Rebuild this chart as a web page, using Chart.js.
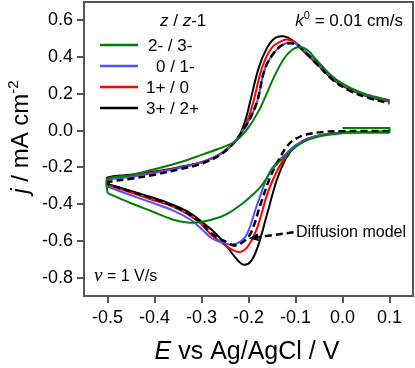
<!DOCTYPE html>
<html>
<head>
<meta charset="utf-8">
<script src="https://cdn.jsdelivr.net/npm/chart.js@4.4.1/dist/chart.umd.min.js"></script>
<style>
  html, body { margin: 0; padding: 0; background: #fff; }
  #wrap { width: 415px; height: 368px; }
</style>
</head>
<body>
<div id="wrap"><canvas id="cvChart"></canvas></div>
<script>
// tick labels
const xTicks = [-0.5, -0.4, -0.3, -0.2, -0.1, 0.0, 0.1];
const yTicks = [-0.8, -0.6, -0.4, -0.2, 0.0, 0.2, 0.4, 0.6];

// legend labels (z / z-1)
const seriesLabels = ['2- / 3-', '0 / 1-', '1+ / 0', '3+ / 2+'];

// [E (V), j (mA cm-2)]; cathodic sweep then anodic sweep
const greenStart = [[0.0, 0.014], [0.1, 0.014], [0.1, -0.012]];
const greenCath = [[0.1, -0.012], [0.05, -0.012], [0.0, -0.014], [-0.04, -0.027], [-0.075, -0.052], [-0.1, -0.09], [-0.12, -0.135], [-0.146, -0.2], [-0.174, -0.305], [-0.2, -0.37], [-0.217, -0.405], [-0.24, -0.445], [-0.26, -0.47], [-0.3, -0.497], [-0.33, -0.5], [-0.36, -0.485], [-0.405, -0.44], [-0.45, -0.395], [-0.5, -0.34]];
const greenAnod = [[-0.5, -0.34], [-0.5, -0.265], [-0.45, -0.243], [-0.407, -0.214], [-0.345, -0.172], [-0.3, -0.132], [-0.265, -0.1], [-0.231, -0.063], [-0.205, 0.0], [-0.178, 0.109], [-0.146, 0.29], [-0.125, 0.39], [-0.107, 0.44], [-0.092, 0.455], [-0.075, 0.44], [-0.054, 0.38], [-0.018, 0.287], [0.017, 0.232], [0.053, 0.195], [0.1, 0.166]];

const blueCath = [[0.1, -0.006], [0.05, -0.007], [0.0, -0.01], [-0.04, -0.022], [-0.075, -0.045], [-0.1, -0.08], [-0.12, -0.125], [-0.153, -0.217], [-0.181, -0.398], [-0.203, -0.562], [-0.22, -0.608], [-0.238, -0.62], [-0.26, -0.607], [-0.281, -0.58], [-0.3, -0.535], [-0.323, -0.485], [-0.36, -0.435], [-0.41, -0.388], [-0.45, -0.352], [-0.5, -0.305]];
const blueAnod = [[-0.5, -0.305], [-0.5, -0.27], [-0.45, -0.252], [-0.4, -0.23], [-0.345, -0.202], [-0.3, -0.174], [-0.26, -0.128], [-0.231, -0.065], [-0.207, 0.02], [-0.194, 0.08], [-0.181, 0.163], [-0.164, 0.344], [-0.139, 0.444], [-0.118, 0.478], [-0.1, 0.476], [-0.08, 0.435], [-0.054, 0.37], [-0.018, 0.281], [0.017, 0.227], [0.053, 0.19], [0.1, 0.163]];

const redCath = [[0.1, -0.006], [0.05, -0.007], [0.0, -0.01], [-0.04, -0.022], [-0.075, -0.045], [-0.1, -0.082], [-0.12, -0.14], [-0.139, -0.217], [-0.16, -0.344], [-0.181, -0.525], [-0.2, -0.625], [-0.217, -0.66], [-0.235, -0.648], [-0.253, -0.618], [-0.281, -0.562], [-0.3, -0.51], [-0.323, -0.465], [-0.36, -0.415], [-0.41, -0.372], [-0.45, -0.337], [-0.5, -0.296]];
const redAnod = [[-0.5, -0.296], [-0.5, -0.262], [-0.45, -0.246], [-0.4, -0.226], [-0.345, -0.2], [-0.3, -0.172], [-0.26, -0.127], [-0.231, -0.065], [-0.212, 0.0], [-0.2, 0.07], [-0.189, 0.163], [-0.171, 0.344], [-0.15, 0.453], [-0.128, 0.49], [-0.115, 0.495], [-0.1, 0.48], [-0.08, 0.43], [-0.054, 0.365], [-0.018, 0.278], [0.017, 0.225], [0.053, 0.189], [0.1, 0.16]];

const blackCath = [[0.1, -0.006], [0.05, -0.007], [0.0, -0.01], [-0.04, -0.022], [-0.075, -0.045], [-0.1, -0.085], [-0.12, -0.15], [-0.14, -0.27], [-0.16, -0.45], [-0.18, -0.63], [-0.195, -0.712], [-0.21, -0.73], [-0.225, -0.7], [-0.245, -0.634], [-0.27, -0.56], [-0.3, -0.495], [-0.33, -0.44], [-0.37, -0.395], [-0.41, -0.36], [-0.45, -0.328], [-0.5, -0.29]];
const blackAnod = [[-0.5, -0.29], [-0.5, -0.255], [-0.45, -0.24], [-0.4, -0.222], [-0.35, -0.2], [-0.3, -0.172], [-0.26, -0.128], [-0.231, -0.065], [-0.217, -0.015], [-0.205, 0.07], [-0.196, 0.163], [-0.178, 0.344], [-0.16, 0.453], [-0.143, 0.505], [-0.125, 0.513], [-0.106, 0.49], [-0.08, 0.425], [-0.054, 0.362], [-0.018, 0.275], [0.017, 0.222], [0.053, 0.186], [0.1, 0.158]];

// diffusion model (dashed)
const diffCath = [[0.1, -0.002], [0.05, -0.002], [0.0, -0.003], [-0.04, -0.007], [-0.075, -0.02], [-0.1, -0.045], [-0.118, -0.085], [-0.139, -0.175], [-0.155, -0.26], [-0.174, -0.398], [-0.196, -0.562], [-0.215, -0.612], [-0.231, -0.625], [-0.245, -0.61], [-0.281, -0.555], [-0.3, -0.505], [-0.33, -0.448], [-0.37, -0.4], [-0.407, -0.365], [-0.45, -0.332], [-0.5, -0.29]];
const diffAnod = [[-0.5, -0.29], [-0.5, -0.28], [-0.45, -0.262], [-0.4, -0.24], [-0.345, -0.209], [-0.3, -0.18], [-0.26, -0.132], [-0.231, -0.065], [-0.207, 0.02], [-0.194, 0.08], [-0.181, 0.163], [-0.164, 0.344], [-0.139, 0.444], [-0.118, 0.474], [-0.098, 0.468], [-0.08, 0.428], [-0.054, 0.36], [-0.018, 0.27], [0.017, 0.215], [0.053, 0.18], [0.1, 0.148]];

const GREEN = '#008000', BLUE = '#5050ff', RED = '#ff0000', BLACK = '#000000';
const FRAME = '#555555';
const SANS = "Arial, 'Liberation Sans', sans-serif";
const SERIF = "'Liberation Serif', 'DejaVu Serif', serif";

const toXY = arr => arr.map(p => ({ x: p[0], y: p[1] }));

function line(data, color, extra) {
  return Object.assign({
    data: toXY(data),
    borderColor: color,
    borderWidth: 2,
    pointRadius: 0,
    tension: 0.35,
    showLine: true,
    fill: false
  }, extra || {});
}

const dashed = { borderDash: [7, 4], borderWidth: 2.5 };

// first dataset is drawn on top
const datasets = [
  line(greenStart, GREEN, { tension: 0 }),
  line(greenCath, GREEN),
  line(greenAnod, GREEN),
  line(diffCath, BLACK, dashed),
  line(diffAnod, BLACK, dashed),
  line(blueCath, BLUE),
  line(blueAnod, BLUE),
  line(redCath, RED),
  line(redAnod, RED),
  line(blackCath, BLACK),
  line(blackAnod, BLACK)
];

// draw text made of several runs with different fonts
function drawRuns(ctx, parts, x, y) {
  parts.forEach(p => {
    ctx.font = p.f;
    ctx.fillText(p.t, x, y + (p.dy || 0));
    x += ctx.measureText(p.t).width;
  });
}
function runsWidth(ctx, parts) {
  let w = 0;
  parts.forEach(p => { ctx.font = p.f; w += ctx.measureText(p.t).width; });
  return w;
}

const decorations = {
  id: 'decorations',
  afterDraw(chart) {
    const ctx = chart.ctx;
    const a = chart.chartArea;
    const xs = chart.scales.x, ys = chart.scales.y;
    ctx.save();

    // frame
    ctx.strokeStyle = FRAME;
    ctx.lineWidth = 2;
    ctx.strokeRect(a.left, a.top, a.right - a.left, a.bottom - a.top);

    ctx.fillStyle = '#000';
    ctx.textBaseline = 'alphabetic';
    ctx.textAlign = 'left';

    // x title
    const xt = [
      { t: 'E', f: 'italic 25px ' + SANS },
      { t: ' vs Ag/AgCl / V', f: '25px ' + SANS }
    ];
    drawRuns(ctx, xt, 247 - runsWidth(ctx, xt) / 2, 359);

    // y title
    const yt = [
      { t: 'j', f: 'italic 24px ' + SANS },
      { t: ' / mA cm', f: '24px ' + SANS },
      { t: '-2', f: '15px ' + SANS, dy: -10 }
    ];
    ctx.save();
    ctx.translate(28, 137);
    ctx.rotate(-Math.PI / 2);
    drawRuns(ctx, yt, -runsWidth(ctx, yt) / 2, 0);
    ctx.restore();

    // legend header
    drawRuns(ctx, [
      { t: 'z', f: 'italic 17px ' + SANS },
      { t: ' / ', f: '17px ' + SANS },
      { t: 'z', f: 'italic 17px ' + SANS },
      { t: '-1', f: '17px ' + SANS }
    ], 160, 26);

    // k0 note
    const kt = [
      { t: 'k', f: 'italic 17px ' + SANS },
      { t: '0', f: '11px ' + SANS, dy: -7 },
      { t: ' = 0.01 cm/s', f: '17px ' + SANS }
    ];
    drawRuns(ctx, kt, 403 - runsWidth(ctx, kt), 26);

    // legend entries
    const legColors = [GREEN, BLUE, RED, BLACK];
    const legY = [45, 66, 87, 108];
    const legX = [148, 156, 146, 146];
    ctx.lineWidth = 2.5;
    legColors.forEach((c, i) => {
      ctx.strokeStyle = c;
      ctx.beginPath();
      ctx.moveTo(100, legY[i]);
      ctx.lineTo(138, legY[i]);
      ctx.stroke();
      ctx.font = '17px ' + SANS;
      ctx.fillText(seriesLabels[i], legX[i], legY[i] + 6);
    });

    // scan rate
    drawRuns(ctx, [
      { t: 'v', f: 'italic 19px ' + SERIF },
      { t: ' = 1 V/s', f: '16px ' + SANS }
    ], 94, 281);

    // diffusion model arrow
    const x0 = xs.getPixelForValue(-0.104), y0 = ys.getPixelForValue(-0.553);
    const x1 = xs.getPixelForValue(-0.2), y1 = ys.getPixelForValue(-0.587);
    const ang = Math.atan2(y1 - y0, x1 - x0);
    const hx = x1 - 10 * Math.cos(ang), hy = y1 - 10 * Math.sin(ang);
    ctx.strokeStyle = '#000';
    ctx.lineWidth = 2.5;
    ctx.setLineDash([7, 4]);
    ctx.beginPath();
    ctx.moveTo(x0, y0);
    ctx.lineTo(hx, hy);
    ctx.stroke();
    ctx.setLineDash([]);
    ctx.beginPath();
    ctx.moveTo(x1, y1);
    ctx.lineTo(hx + 4 * Math.sin(ang), hy - 4 * Math.cos(ang));
    ctx.lineTo(hx - 4 * Math.sin(ang), hy + 4 * Math.cos(ang));
    ctx.closePath();
    ctx.fill();
    ctx.font = '16px ' + SANS;
    ctx.fillText('Diffusion model', 296, 237);

    ctx.restore();
  }
};

const tickFont = { family: SANS, size: 18 };

new Chart(document.getElementById('cvChart'), {
  type: 'scatter',
  data: { datasets: datasets },
  options: {
    responsive: true,
    maintainAspectRatio: false,
    animation: false,
    devicePixelRatio: 1,
    layout: { padding: { top: 2, right: 2, left: 0, bottom: 0 } },
    plugins: { legend: { display: false }, tooltip: { enabled: false } },
    scales: {
      x: {
        type: 'linear',
        min: -0.55,
        max: 0.15,
        afterBuildTicks: s => { s.ticks = xTicks.map(v => ({ value: v })); },
        afterFit: s => { s.height = 72; s.paddingLeft = 0; s.paddingRight = 0; },
        ticks: { font: tickFont, color: '#000', padding: 4, maxRotation: 0, autoSkip: false,
                 callback: v => v.toFixed(1) },
        grid: { drawOnChartArea: false, tickLength: 7, lineWidth: 2, color: FRAME },
        border: { display: false }
      },
      y: {
        type: 'linear',
        min: -0.9,
        max: 0.7,
        afterBuildTicks: s => { s.ticks = yTicks.map(v => ({ value: v })); },
        afterFit: s => { s.width = 84; s.paddingTop = 0; s.paddingBottom = 0; },
        ticks: { font: tickFont, color: '#000', padding: 4, autoSkip: false,
                 callback: v => v.toFixed(1) },
        grid: { drawOnChartArea: false, tickLength: 7, lineWidth: 2, color: FRAME },
        border: { display: false }
      }
    }
  },
  plugins: [decorations]
});
</script>
</body>
</html>
